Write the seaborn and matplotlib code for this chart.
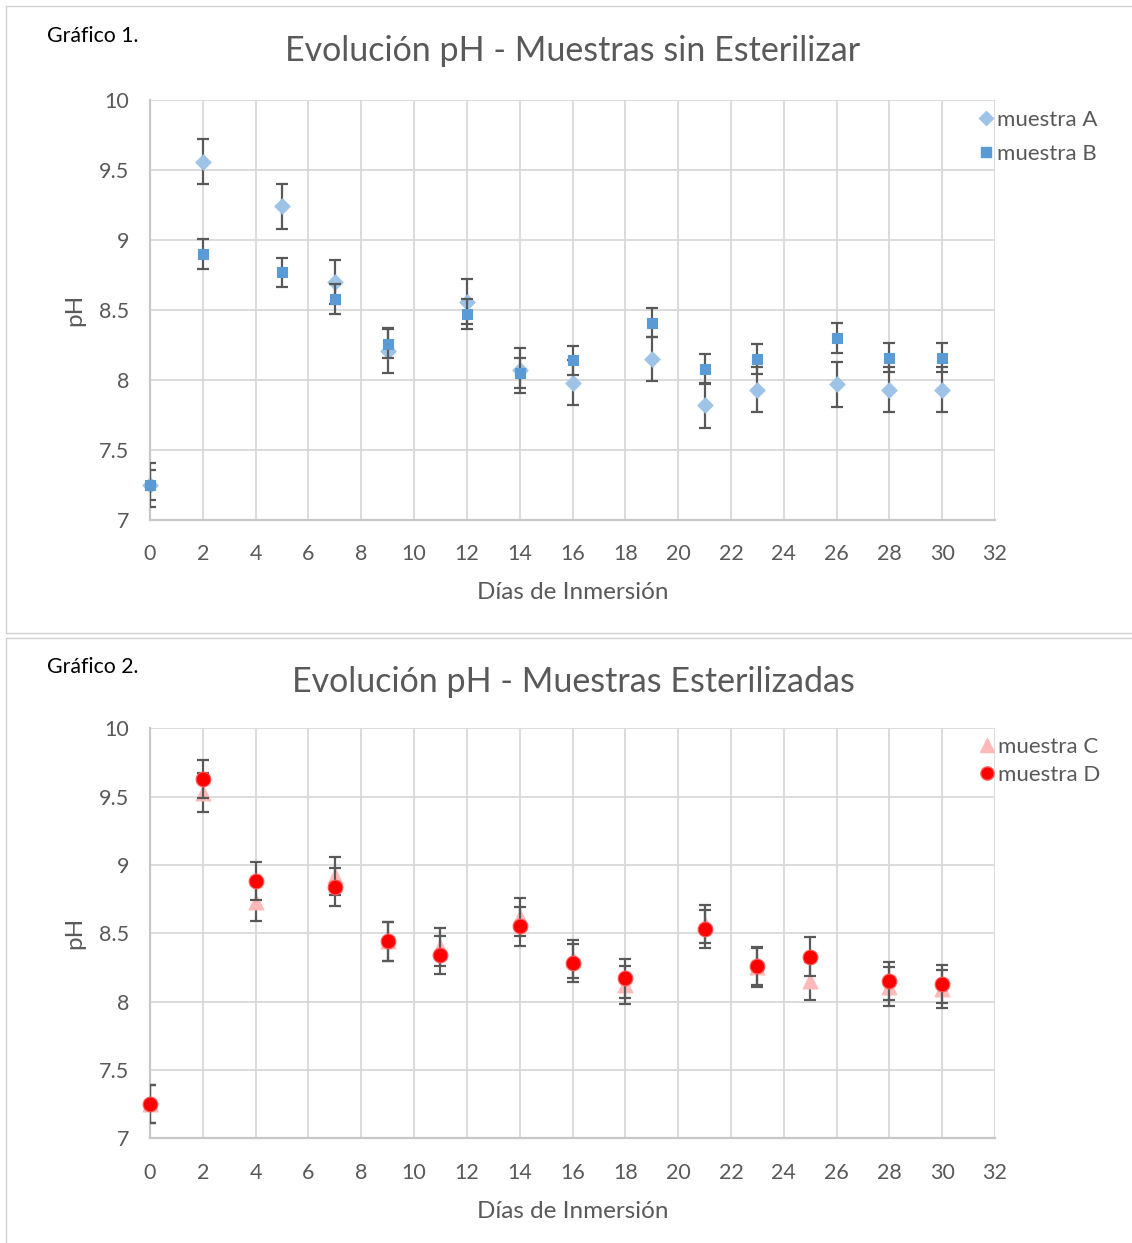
import numpy as np
import pandas as pd
import matplotlib
matplotlib.use("Agg")
import matplotlib.pyplot as plt
from matplotlib.patches import Rectangle
from matplotlib.lines import Line2D
from matplotlib.ticker import FormatStrFormatter
import seaborn as sns

# ---------------- data ----------------
dias_1 = [0, 2, 5, 7, 9, 12, 14, 16, 19, 21, 23, 26, 28, 30]
muestra_A = [7.25, 9.56, 9.24, 8.70, 8.21, 8.56, 8.07, 7.98, 8.15, 7.82, 7.93, 7.97, 7.93, 7.93]
muestra_B = [7.25, 8.90, 8.77, 8.58, 8.26, 8.47, 8.05, 8.14, 8.41, 8.08, 8.15, 8.30, 8.16, 8.16]
err_A = 0.16
err_B = 0.105

dias_2 = [0, 2, 4, 7, 9, 11, 14, 16, 18, 21, 23, 25, 28, 30]
muestra_C = [7.25, 9.53, 8.73, 8.92, 8.44, 8.40, 8.62, 8.31, 8.12, 8.57, 8.25, 8.15, 8.11, 8.09]
muestra_D = [7.25, 9.63, 8.88, 8.84, 8.44, 8.34, 8.55, 8.28, 8.17, 8.53, 8.26, 8.33, 8.15, 8.13]
err_C = 0.14
err_D = 0.14

titulos = ["Evolución pH - Muestras sin Esterilizar", "Evolución pH - Muestras Esterilizadas"]
etiquetas = ["Gráfico 1.", "Gráfico 2."]
xlabel = "Días de Inmersión"
ylabel = "pH"
x_ticks = list(range(0, 33, 2))
y_ticks = [7, 7.5, 8, 8.5, 9, 9.5, 10]

# ---------------- style ----------------
sns.set_theme(style="white")
plt.rcParams['font.family'] = ['Lato', 'DejaVu Sans']

W, H = 1132, 1243
fig = plt.figure(figsize=(W / 100, H / 100), dpi=100)
fig.patch.set_facecolor("white")

TXT = "#595959"
GRID = "#d9d9d9"
ERR = "#595959"


def px_ax(l, t, r, b):
    return [l / W, 1 - b / H, (r - l) / W, (b - t) / H]


def make_df(dias, vals_a, vals_b, name_a, name_b):
    return pd.DataFrame({
        "dia": list(dias) + list(dias),
        "ph": list(vals_a) + list(vals_b),
        "serie": [name_a] * len(dias) + [name_b] * len(dias),
    })


panels = [
    dict(rect=(150, 100, 995, 520), dias=dias_1, a=muestra_A, b=muestra_B, ea=err_A, eb=err_B,
         na="muestra A", nb="muestra B", ma="D", mb="s", ca="#9DC3E6", cb="#5B9BD5",
         ea_c="#9DC3E6", eb_c="#5B9BD5", sa=60, sb=62, box=(5.5, 5.5, 1140, 633),
         lab_y=36, title_y=51, leg=(979, 110), lsp=0.62),
    dict(rect=(150, 728.3, 995, 1138.3), dias=dias_2, a=muestra_C, b=muestra_D, ea=err_C, eb=err_D,
         na="muestra C", nb="muestra D", ma="^", mb="o", ca="#FFB9B9", cb="#FF0000",
         ea_c="#FFB9B9", eb_c="#FF5a5a", sa=115, sb=112, box=(5.5, 637.5, 1140, 1260),
         lab_y=667, title_y=682, leg=(980, 737), lsp=0.35),
]

for i, p in enumerate(panels):
    # panel border
    l, t, r, b = p["box"]
    fig.patches.append(Rectangle((l / W, 1 - b / H), (r - l) / W, (b - t) / H,
                                 transform=fig.transFigure, fill=False,
                                 edgecolor="#d0d0d0", linewidth=1.0, zorder=0))
    ax = fig.add_axes(px_ax(*p["rect"]))
    ax.set_facecolor("white")
    df = make_df(p["dias"], p["a"], p["b"], p["na"], p["nb"])

    # series A/C
    ax.errorbar(p["dias"], p["a"], yerr=p["ea"], fmt="none", ecolor=ERR,
                elinewidth=1.6, capsize=4.6, capthick=1.6, zorder=3)
    sns.scatterplot(data=df[df["serie"] == p["na"]], x="dia", y="ph", ax=ax,
                    marker=p["ma"], color=p["ca"], s=p["sa"], edgecolor=p["ea_c"],
                    linewidth=0.8, legend=False, zorder=4, clip_on=False)
    # series B/D
    ax.errorbar(p["dias"], p["b"], yerr=p["eb"], fmt="none", ecolor=ERR,
                elinewidth=1.6, capsize=4.6, capthick=1.6, zorder=5)
    sns.scatterplot(data=df[df["serie"] == p["nb"]], x="dia", y="ph", ax=ax,
                    marker=p["mb"], color=p["cb"], s=p["sb"], edgecolor=p["eb_c"],
                    linewidth=0.8, legend=False, zorder=6, clip_on=False)

    ax.set_xlim(0, 32)
    ax.set_ylim(7, 10)
    ax.set_xticks(x_ticks)
    ax.set_yticks(y_ticks)
    ax.yaxis.set_major_formatter(FormatStrFormatter("%g"))
    ax.grid(True, color=GRID, linewidth=1.3)
    ax.set_axisbelow(True)
    for s in ["top", "right"]:
        ax.spines[s].set_visible(False)
    for s in ["left", "bottom"]:
        ax.spines[s].set_color("#c8c8c8")
        ax.spines[s].set_linewidth(1.6)
    ax.tick_params(axis="both", length=0, labelsize=15.5, labelcolor=TXT)
    ax.tick_params(axis="x", pad=17.5)
    ax.tick_params(axis="y", pad=15)
    ax.set_xlabel(xlabel, fontsize=17.5, color=TXT, labelpad=13)
    ax.set_ylabel(ylabel, fontsize=17.5, color=TXT, labelpad=10)

    fig.text(573 / W, 1 - p["title_y"] / H, titulos[i], ha="center", va="center",
             fontsize=24.5, color=TXT)
    fig.text(47 / W, 1 - p["lab_y"] / H, etiquetas[i], ha="left", va="center",
             fontsize=15.3, color="black")

    handles = [
        Line2D([], [], linestyle="none", marker=p["ma"], color=p["ca"],
               markersize=10 if p["ma"] != "D" else 7.5, markeredgecolor=p["ea_c"]),
        Line2D([], [], linestyle="none", marker=p["mb"], color=p["cb"],
               markersize=9.5 if p["mb"] != "s" else 7.5, markeredgecolor=p["eb_c"]),
    ]
    lx, ly = p["leg"]
    leg = fig.legend(handles, [p["na"], p["nb"]], loc="upper left",
                     bbox_to_anchor=(lx / W, 1 - ly / H), bbox_transform=fig.transFigure,
                     frameon=False, fontsize=16, handlelength=0.6, handletextpad=0.2,
                     labelspacing=p["lsp"], borderaxespad=0, borderpad=0)
    for tx in leg.get_texts():
        tx.set_color(TXT)

fig.savefig("out.png", dpi=100, facecolor="white")
